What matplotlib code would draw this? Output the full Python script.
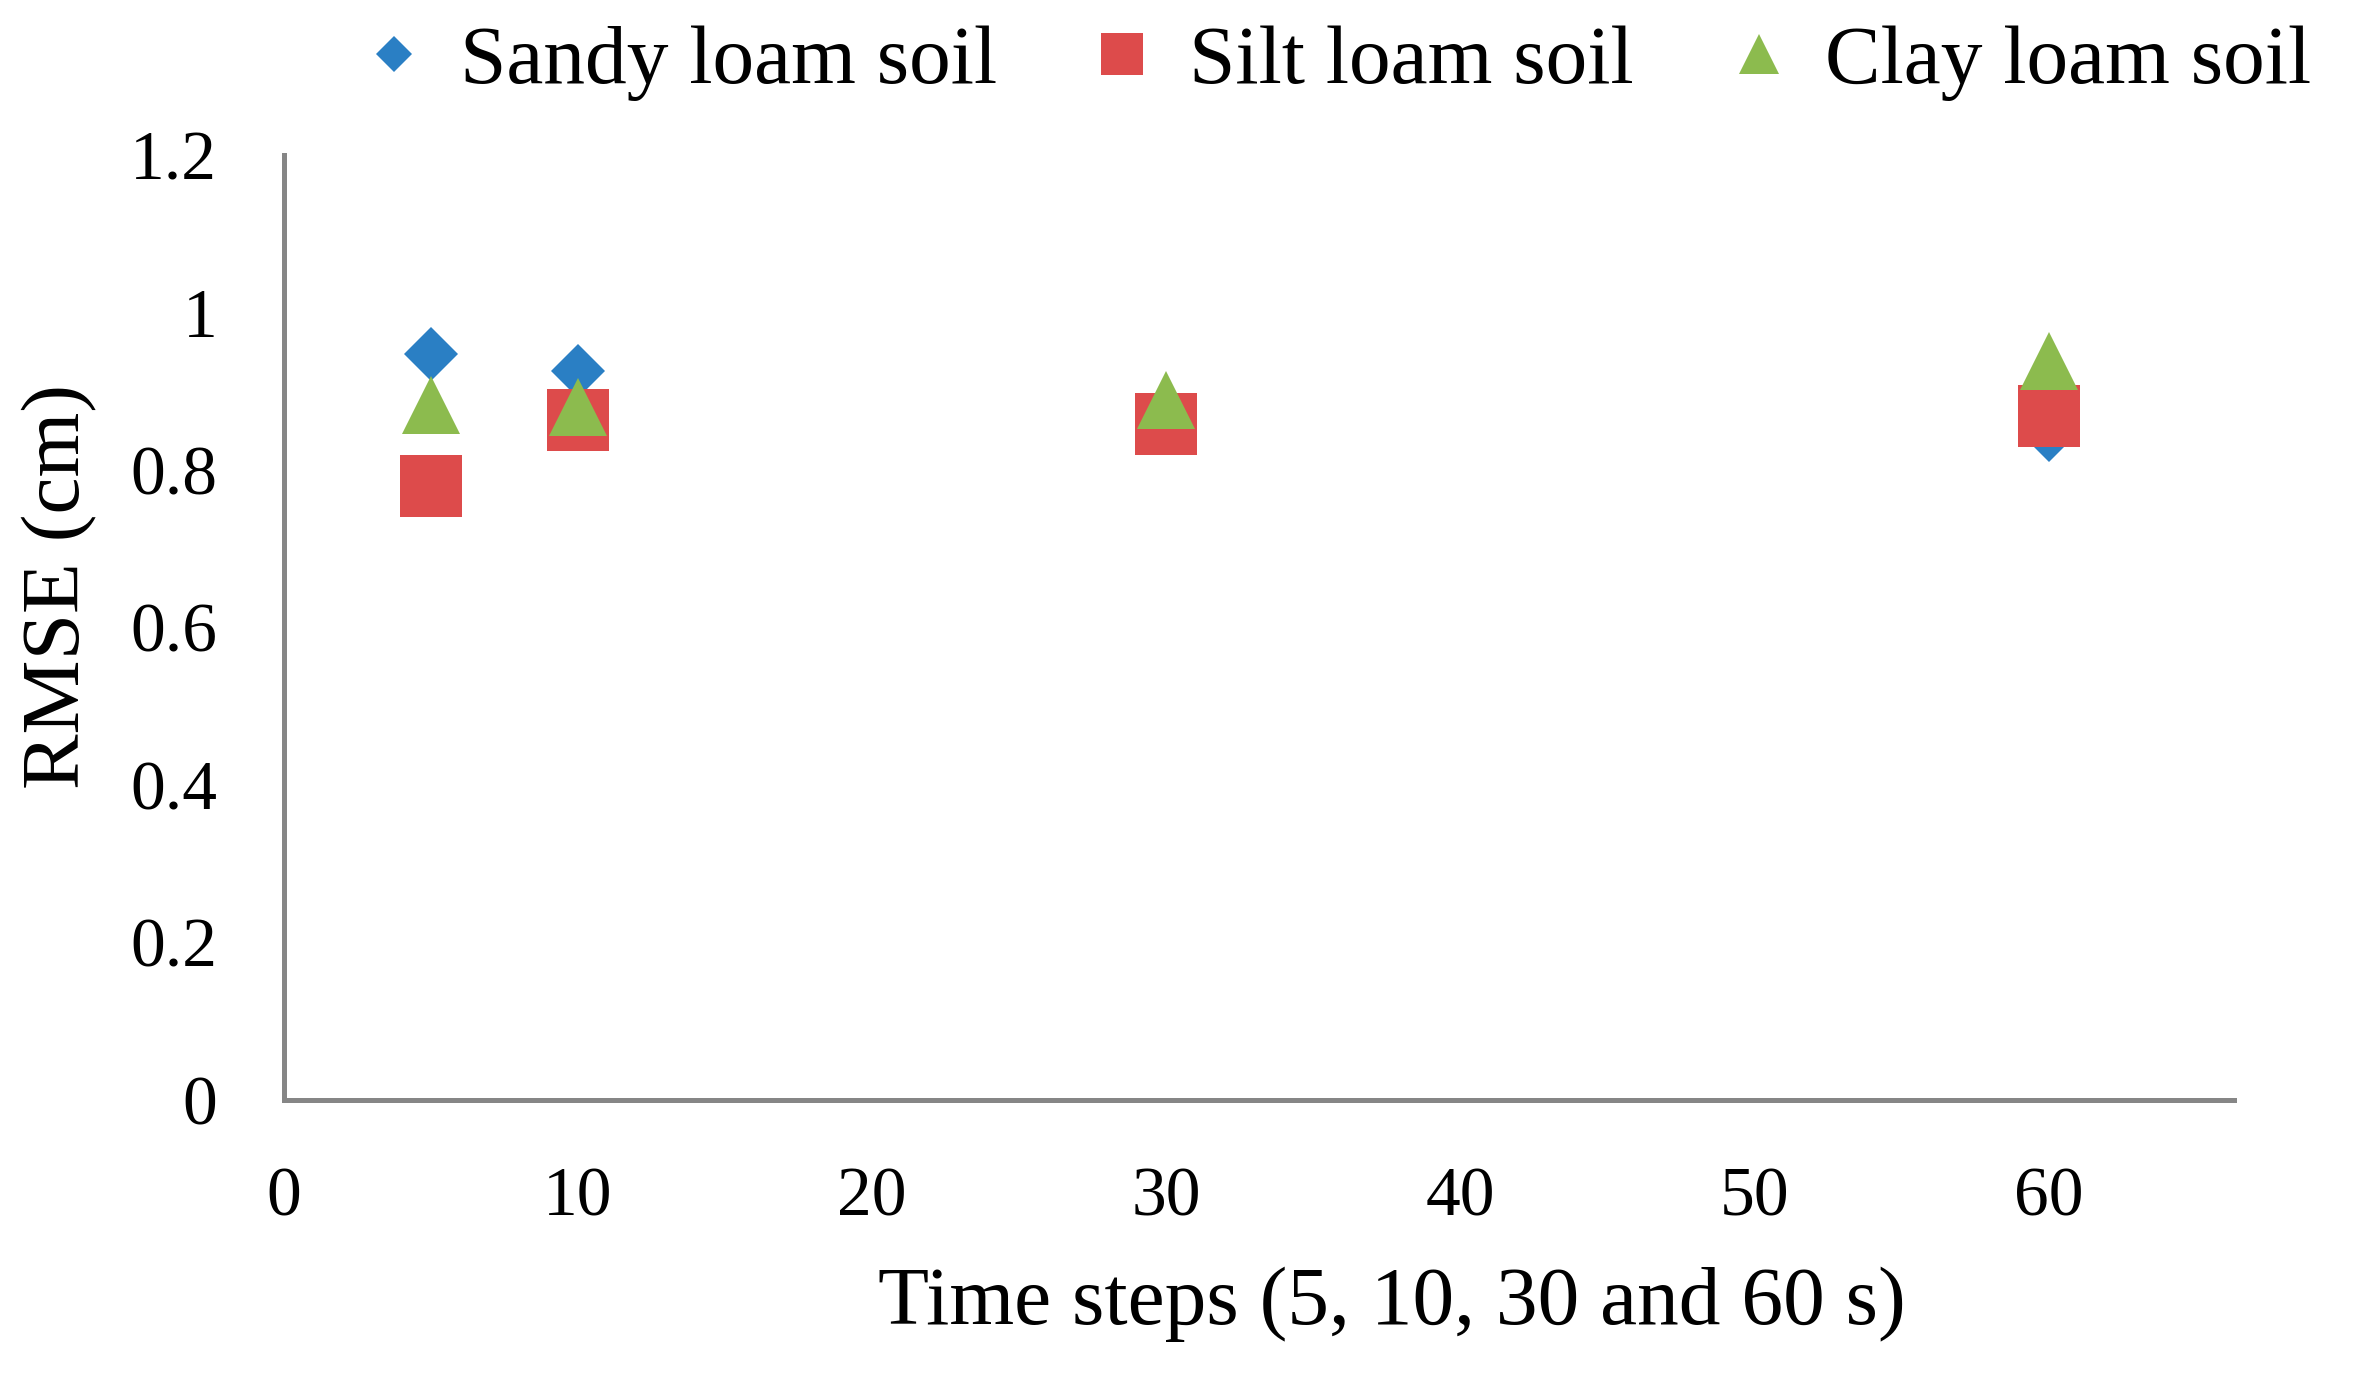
import matplotlib.pyplot as plt

plt.rcParams['font.family'] = ['Liberation Serif', 'DejaVu Serif']

# time steps (s) and RMSE (cm)
time_steps = [5, 10, 30, 60]
sandy_rmse = [0.947, 0.926, 0.86, 0.845]
silt_rmse = [0.78, 0.863, 0.859, 0.868]
clay_rmse = [0.882, 0.88, 0.889, 0.938]

x_ticks = [0, 10, 20, 30, 40, 50, 60]
y_ticks = [0, 0.2, 0.4, 0.6, 0.8, 1, 1.2]
y_tick_labels = ['0', '0.2', '0.4', '0.6', '0.8', '1', '1.2']

fig = plt.figure(figsize=(23.72, 13.77), dpi=100)
ax = fig.add_axes([284/2372, 1 - 1100/1377, 1950/2372, 945/1377])

ax.plot(time_steps, sandy_rmse, 'D', color='#2a7fc4', ms=27, mew=0, label='Sandy loam soil', zorder=3)
ax.plot(time_steps, silt_rmse, 's', color='#dd4b4b', ms=44, mew=0, label='Silt loam soil', zorder=4)
ax.plot(time_steps, clay_rmse, '^', color='#8cbb4e', ms=42, mew=0, label='Clay loam soil', zorder=5)

ax.set_xlim(0, 66.3)
ax.set_ylim(0, 1.2)
ax.set_xticks(x_ticks)
ax.set_yticks(y_ticks)
ax.set_yticklabels(y_tick_labels)
ax.tick_params(length=0, labelsize=50, pad=48)

for s in ['top', 'right']:
    ax.spines[s].set_visible(False)
for s in ['left', 'bottom']:
    ax.spines[s].set_color('#868686')
    ax.spines[s].set_linewidth(3.6)

ax.set_xlabel('Time steps (5, 10, 30 and 60 s)', fontsize=60, va='center')
ax.xaxis.set_label_coords(0.568, -0.216)
ax.set_ylabel('RMSE (cm)', fontsize=60, va='center')
ax.yaxis.set_label_coords(-0.115, 0.543)

fig.legend(loc='center', bbox_to_anchor=(1340/2372, 1 - 63/1377), ncol=3,
           frameon=False, fontsize=60, markerscale=0.68, handlelength=0.6,
           handletextpad=0.5, columnspacing=1.2, borderpad=0)

fig.savefig('out.png', dpi=100)
